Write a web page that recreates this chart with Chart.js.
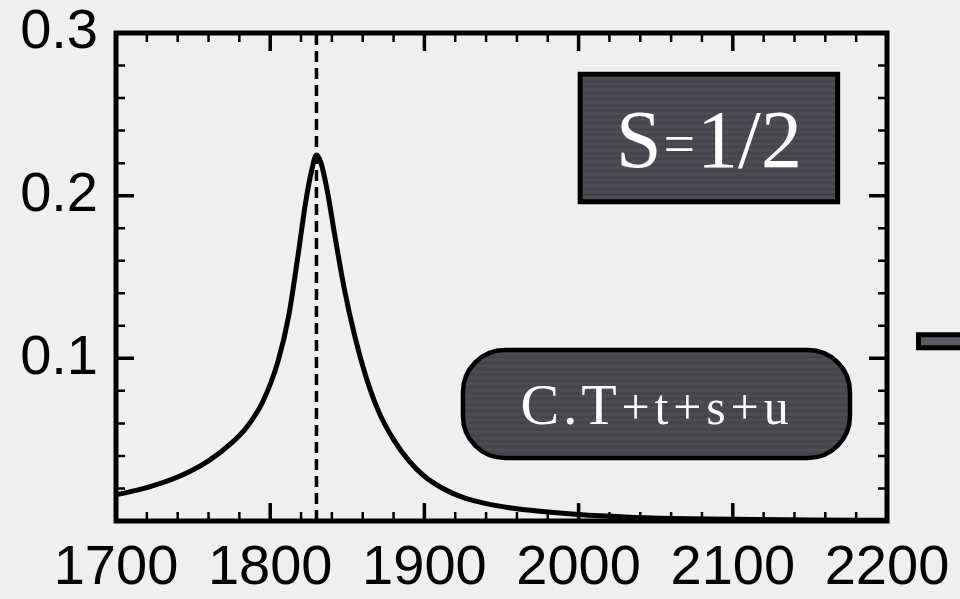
<!DOCTYPE html>
<html>
<head>
<meta charset="utf-8">
<script src="https://cdn.jsdelivr.net/npm/chart.js@4.4.1/dist/chart.umd.min.js"></script>
<style>
  html, body { margin: 0; padding: 0; background: #efefef; }
  #wrap { width: 960px; height: 599px; position: relative; }
</style>
</head>
<body>
<div id="wrap"><canvas id="resonance"></canvas></div>
<script>
// values
const energy = [1700, 1720, 1740, 1760, 1775, 1785, 1795, 1805, 1812, 1818, 1823, 1827, 1830,
                1833, 1837, 1842, 1848, 1855, 1862, 1870, 1880, 1890, 1900, 1912, 1925,
                1940, 1955, 1975, 2000, 2030, 2060, 2100, 2150, 2200];
const intensity = [0.016, 0.0205, 0.027, 0.037, 0.048, 0.058, 0.073, 0.098, 0.126, 0.163, 0.196, 0.216, 0.225,
                   0.220, 0.203, 0.175, 0.143, 0.113, 0.089, 0.068, 0.050, 0.037, 0.0275, 0.020, 0.0145,
                   0.0107, 0.0082, 0.0060, 0.0040, 0.0025, 0.0016, 0.0010, 0.0006, 0.0004];
const peakPosition = 1830;
const xTicks = [1700, 1800, 1900, 2000, 2100, 2200];
const yTicks = [0.1, 0.2, 0.3];
const xMinorStep = 20;
const yMinorStep = 0.02;

// the two labels sitting on the plot, in data coordinates
const spinLabel = { text: ["S", "=", "1/2"], x0: 2001, x1: 2168, y0: 0.2747, y1: 0.1963 };
const channelLabel = { text: ["C.T", "+t+s+u"], x0: 1925, x1: 2176, y0: 0.1051, y1: 0.0387 };

const BOX_FILL = "#48484e";

function fillBrushed(ctx, x, y, w, h) {
  ctx.fillStyle = BOX_FILL;
  ctx.fill();
  ctx.save();
  ctx.clip();
  for (let yy = y; yy < y + h; yy += 3) {
    ctx.fillStyle = (Math.round(yy) % 2) ? "rgba(255,255,255,0.04)" : "rgba(0,0,0,0.06)";
    ctx.fillRect(x, yy, w, 1.5);
  }
  ctx.restore();
}

function spacedText(ctx, text, font, x, base, targetW) {
  ctx.font = font;
  ctx.letterSpacing = "0px";
  const raw = ctx.measureText(text).width;
  ctx.letterSpacing = Math.max(0, (targetW - raw) / text.length) + "px";
  ctx.fillText(text, x, base);
  ctx.letterSpacing = "0px";
}

const frameTicks = {
  id: "frameTicks",
  afterDatasetsDraw(chart) {
    const { ctx, chartArea: a, scales: { x, y } } = chart;
    ctx.save();
    ctx.strokeStyle = "#000";
    const nx = Math.round((x.max - x.min) / xMinorStep);
    for (let i = 0; i <= nx; i++) {
      const px = x.getPixelForValue(x.min + i * xMinorStep);
      const major = i % 5 === 0;
      const len = major ? 18 : 9;
      ctx.lineWidth = major ? 3.5 : 2.5;
      ctx.beginPath();
      ctx.moveTo(px, a.bottom); ctx.lineTo(px, a.bottom - len);
      ctx.moveTo(px, a.top); ctx.lineTo(px, a.top + len);
      ctx.stroke();
    }
    const ny = Math.round((y.max - y.min) / yMinorStep);
    for (let i = 0; i <= ny; i++) {
      const py = y.getPixelForValue(y.min + i * yMinorStep);
      const major = i % 5 === 0;
      const len = major ? 18 : 9;
      ctx.lineWidth = major ? 3.5 : 2.5;
      ctx.beginPath();
      ctx.moveTo(a.left, py); ctx.lineTo(a.left + len, py);
      ctx.moveTo(a.right, py); ctx.lineTo(a.right - len, py);
      ctx.stroke();
    }
    ctx.lineWidth = 5;
    ctx.strokeRect(a.left, a.top, a.width, a.height);
    ctx.restore();
  },
  afterDraw(chart) {
    const { ctx, chartArea: a, scales: { x, y } } = chart;
    ctx.save();

    // S=1/2 box
    let bx = x.getPixelForValue(spinLabel.x0), bw = x.getPixelForValue(spinLabel.x1) - bx;
    let by = y.getPixelForValue(spinLabel.y0), bh = y.getPixelForValue(spinLabel.y1) - by;
    ctx.beginPath();
    ctx.rect(bx, by, bw, bh);
    fillBrushed(ctx, bx, by, bw, bh);
    ctx.lineWidth = 5;
    ctx.strokeStyle = "#000";
    ctx.stroke();
    const sizes = [82, 56, 82];
    const widths = spinLabel.text.map((t, i) => {
      ctx.font = sizes[i] + 'px "Liberation Serif"';
      return ctx.measureText(t).width;
    });
    const gap = 2;
    const total = widths.reduce((s, w) => s + w, 0) + gap * 2;
    let tx = bx + bw / 2 - total / 2;
    const base = by + bh / 2 + 29;
    ctx.fillStyle = "#fff";
    ctx.textBaseline = "alphabetic";
    spinLabel.text.forEach((t, i) => {
      ctx.font = sizes[i] + 'px "Liberation Serif"';
      ctx.fillText(t, tx, i === 1 ? base - 4 : base);
      tx += widths[i] + gap;
    });

    // C.T+t+s+u rounded box
    bx = x.getPixelForValue(channelLabel.x0); bw = x.getPixelForValue(channelLabel.x1) - bx;
    by = y.getPixelForValue(channelLabel.y0); bh = y.getPixelForValue(channelLabel.y1) - by;
    ctx.beginPath();
    ctx.roundRect(bx, by, bw, bh, 42);
    fillBrushed(ctx, bx, by, bw, bh);
    ctx.lineWidth = 4.5;
    ctx.strokeStyle = "#000";
    ctx.stroke();
    ctx.fillStyle = "#fff";
    const cbase = by + bh / 2 + 20;
    const cx0 = bx + bw / 2 - 136;
    spacedText(ctx, channelLabel.text[0], '58px "Liberation Serif"', cx0, cbase, 100);
    spacedText(ctx, channelLabel.text[1], '50px "Liberation Serif"', cx0 + 101, cbase, 172);

    // cropped bar at the right edge of the figure
    ctx.beginPath();
    ctx.rect(a.right + 31.5, y.getPixelForValue(0.1) - 23.5, 60, 13);
    ctx.fillStyle = "#5b5b63";
    ctx.fill();
    ctx.lineWidth = 5;
    ctx.strokeStyle = "#000";
    ctx.stroke();
    ctx.restore();
  }
};

const tickFont = { family: '"Liberation Sans", Arial, sans-serif', size: 56 };

new Chart(document.getElementById("resonance"), {
  type: "line",
  data: {
    datasets: [
      {
        data: energy.map((e, i) => ({ x: e, y: intensity[i] })),
        borderColor: "#000",
        borderWidth: 5,
        pointRadius: 0,
        cubicInterpolationMode: "monotone",
        fill: false
      },
      {
        data: [{ x: peakPosition, y: 0 }, { x: peakPosition, y: 0.3 }],
        borderColor: "#000",
        borderWidth: 3.5,
        borderDash: [11, 6],
        pointRadius: 0,
        fill: false
      }
    ]
  },
  options: {
    responsive: true,
    maintainAspectRatio: false,
    animation: false,
    devicePixelRatio: 1,
    layout: { padding: { top: 33, right: 73, left: 0, bottom: 0 } },
    plugins: { legend: { display: false }, tooltip: { enabled: false } },
    scales: {
      x: {
        type: "linear",
        min: 1700,
        max: 2200,
        afterBuildTicks: s => { s.ticks = xTicks.map(v => ({ value: v })); },
        afterFit: s => { s.height = 78; s.paddingLeft = 0; s.paddingRight = 0; },
        grid: { display: false, drawTicks: false },
        border: { display: false },
        ticks: { color: "#000", font: tickFont, padding: 14, maxRotation: 0, autoSkip: false,
                 callback: v => String(v) }
      },
      y: {
        type: "linear",
        min: 0,
        max: 0.3,
        afterBuildTicks: s => { s.ticks = yTicks.map(v => ({ value: v })); },
        afterFit: s => { s.width = 116; s.paddingTop = 0; s.paddingBottom = 0; },
        grid: { display: false, drawTicks: false },
        border: { display: false },
        ticks: { color: "#000", font: tickFont, padding: 18,
                 callback: v => v.toFixed(1) }
      }
    }
  },
  plugins: [frameTicks]
});
</script>
</body>
</html>
